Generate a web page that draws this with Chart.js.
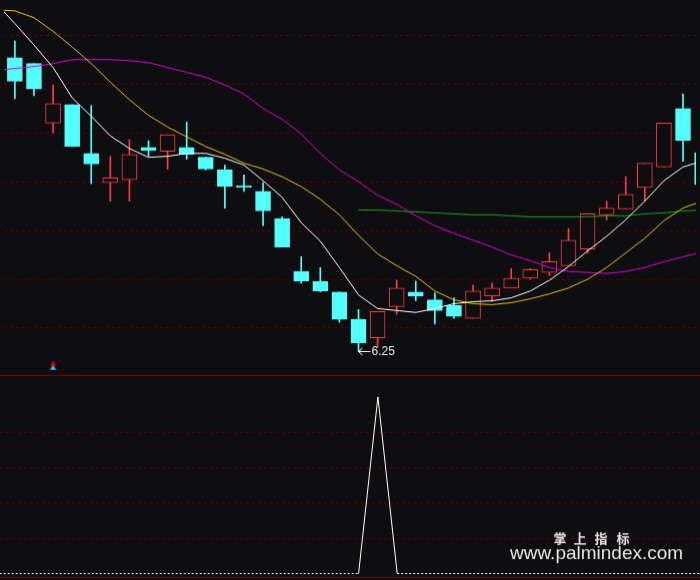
<!DOCTYPE html>
<html>
<head>
<meta charset="utf-8">
<script src="https://cdn.jsdelivr.net/npm/chart.js@4.4.0/dist/chart.umd.min.js"></script>
<style>
  body { margin: 0; background: #0e0e11; width: 700px; height: 580px; overflow: hidden; }
  canvas { display: block; }
  #top { border-bottom: 1px solid #7a0000; }
  #bottom { border-bottom: 1px solid #6a0000; }
</style>
</head>
<body>
<canvas id="top" width="700" height="376"></canvas>
<canvas id="bottom" width="700" height="202"></canvas>
<script>
// daily candles, index 0..36
var opens  = [9.26,9.20,8.59,8.78,8.28,7.98,8.01,8.34,8.30,8.34,8.24,8.11,7.95,7.89,7.61,7.07,6.97,6.86,6.58,6.39,6.71,6.86,6.78,6.72,6.59,6.82,6.90,7.00,7.06,7.13,7.30,7.65,7.71,7.93,8.14,8.74,8.29];
var closes = [9.02,8.94,8.79,8.35,8.17,8.03,8.27,8.31,8.47,8.27,8.12,7.94,7.93,7.69,7.32,6.97,6.87,6.58,6.34,6.66,6.90,6.82,6.67,6.61,6.87,6.90,7.00,7.09,7.17,7.39,7.66,7.72,7.86,8.18,8.59,8.41,7.96];
var highs  = [9.43,9.20,8.98,8.78,8.77,8.25,8.42,8.41,8.47,8.60,8.24,8.16,8.06,7.98,7.63,7.22,7.11,6.86,6.68,6.66,6.98,6.97,6.85,6.80,6.93,6.95,7.10,7.10,7.26,7.51,7.66,7.79,8.04,8.18,8.59,8.89,8.41];
var lows   = [8.84,8.87,8.49,8.35,7.97,7.79,7.79,8.25,8.12,8.22,8.11,7.72,7.89,7.54,7.32,6.95,6.86,6.55,6.25,6.29,6.63,6.77,6.53,6.59,6.59,6.76,6.90,6.99,7.03,7.13,7.26,7.60,7.71,7.79,8.14,8.20,7.91];

// moving averages, index -1..36
var ma5  = [9.82,9.61,9.39,9.16,8.85,8.66,8.46,8.33,8.24,8.25,8.28,8.28,8.23,8.16,8.00,7.83,7.57,7.38,7.11,6.83,6.69,6.67,6.65,6.69,6.74,6.76,6.77,6.80,6.87,6.98,7.12,7.28,7.43,7.60,7.79,8.00,8.14,8.20];
var ma10 = [9.75,9.74,9.67,9.53,9.37,9.20,9.01,8.83,8.67,8.55,8.45,8.35,8.27,8.18,8.12,8.04,7.94,7.81,7.65,7.44,7.25,7.13,7.02,6.87,6.78,6.74,6.73,6.75,6.79,6.84,6.90,6.99,7.11,7.26,7.41,7.59,7.72,7.79];
var ma20 = [9.13,9.15,9.17,9.20,9.24,9.24,9.24,9.23,9.21,9.16,9.11,9.06,8.98,8.89,8.74,8.63,8.48,8.28,8.11,7.99,7.85,7.76,7.64,7.54,7.46,7.39,7.32,7.24,7.18,7.11,7.07,7.06,7.05,7.07,7.11,7.17,7.22,7.27];
// ma60 only from index 18
var ma60 = [7.70,7.70,7.69,7.68,7.67,7.66,7.65,7.65,7.64,7.63,7.63,7.63,7.63,7.64,7.64,7.66,7.67,7.69,7.70];

// signal marks (index 2) and lower indicator, index -1..37
var markIndex = 2;
var markRed = 6.12, markBlue = 6.08;
var signal = [0,0,0,0,0,0,0,0,0,0,0,0,0,0,0,0,0,0,0,0,100,0,0,0,0,0,0,0,0,0,0,0,0,0,0,0,0,0,0];

var priceGrid = [6.49,6.99,7.49,7.99,8.49,8.99,9.49];
var signalGrid = [20,40,60,80];

var BG = '#0e0e11', RED = '#ff3c3c', CYAN = '#54ffff';
var xMin = -0.57, xMax = 35.68;

function fromIndex(arr, start) {
    return arr.map(function (v, k) { return {x: start + k, y: v}; });
}

var up = closes.map(function (c, i) { return c >= opens[i]; });

var wicks = highs.map(function (h, i) { return {x: i, y: [lows[i], h]}; });
var bodies = opens.map(function (o, i) { return {x: i, y: [o, closes[i]]}; });

var xScale = {type: 'linear', min: xMin, max: xMax, offset: false, display: false};

function gridScale(min, max, ticks) {
    return {
        min: min, max: max,
        afterBuildTicks: function (s) { s.ticks = ticks.map(function (v) { return {value: v}; }); },
        afterFit: function (s) { s.width = 0; },
        ticks: {display: false},
        border: {display: false, dash: [3, 3]},
        grid: {color: '#640000', lineWidth: 1, drawTicks: false}
    };
}

var lowLabel = {
    id: 'lowLabel',
    afterDatasetsDraw: function (chart) {
        var i = lows.indexOf(Math.min.apply(null, lows));
        var x = chart.scales.x.getPixelForValue(i);
        var y = Math.round(chart.scales.y.getPixelForValue(lows[i])) + 0.5;
        var ctx = chart.ctx;
        ctx.save();
        ctx.strokeStyle = '#ffffff';
        ctx.lineWidth = 1;
        ctx.beginPath();
        ctx.moveTo(x, y); ctx.lineTo(x + 12, y);
        ctx.moveTo(x + 4, y - 3.5); ctx.lineTo(x, y); ctx.lineTo(x + 4, y + 3.5);
        ctx.stroke();
        ctx.fillStyle = '#e2ecf4';
        ctx.font = '12px "Liberation Sans"';
        ctx.textBaseline = 'middle';
        ctx.fillText(lows[i].toFixed(2), x + 13, y);
        ctx.restore();
    }
};

new Chart(document.getElementById('top'), {
    data: {
        datasets: [
            {type: 'line', data: fromIndex(ma5, -1), borderColor: '#ffffff', order: 1},
            {type: 'line', data: fromIndex(ma10, -1), borderColor: '#e6c300', order: 1},
            {type: 'line', data: fromIndex(ma20, -1), borderColor: '#dc00dc', order: 1},
            {type: 'line', data: fromIndex(ma60, 18), borderColor: '#12a81a', order: 1},
            {type: 'scatter', data: [{x: markIndex, y: markRed}], pointStyle: 'triangle', pointRadius: 3.5,
             backgroundColor: '#e00000', borderWidth: 0, order: 0},
            {type: 'scatter', data: [{x: markIndex, y: markBlue}], pointStyle: 'triangle', pointRadius: 3.5,
             backgroundColor: '#3ab8ff', borderWidth: 0, order: 0},
            {type: 'bar', data: bodies, barThickness: 15, grouped: false, borderWidth: 1, borderSkipped: false,
             borderColor: up.map(function (u) { return u ? RED : CYAN; }),
             backgroundColor: up.map(function (u) { return u ? BG : CYAN; }), order: 2},
            {type: 'bar', data: wicks, barThickness: 1, grouped: false, borderWidth: 0,
             backgroundColor: up.map(function (u) { return u ? RED : CYAN; }), order: 3}
        ]
    },
    options: {
        responsive: false,
        animation: false,
        devicePixelRatio: 1,
        layout: {padding: 0},
        elements: {line: {borderWidth: 1, tension: 0}, point: {radius: 0}},
        plugins: {legend: {display: false}, tooltip: {enabled: false}},
        scales: {x: xScale, y: gridScale(6.05, 9.81, priceGrid)}
    },
    plugins: [lowLabel]
});

var watermark = {
    id: 'watermark',
    afterDraw: function (chart) {
        var ctx = chart.ctx;
        ctx.save();
        ctx.fillStyle = '#e6e6e6';
        ctx.textAlign = 'center';
        ctx.textBaseline = 'middle';
        ctx.font = 'bold 13px "Noto Sans CJK SC"';
        var chars = ['掌', '上', '指', '标'], cx = [560, 580, 601, 623];
        chars.forEach(function (c, k) { ctx.fillText(c, cx[k], 163); });
        ctx.textAlign = 'left';
        ctx.textBaseline = 'alphabetic';
        ctx.font = '19px "Liberation Sans"';
        ctx.fillText('www.palmindex.com', 510, 184);
        ctx.restore();
    }
};

new Chart(document.getElementById('bottom'), {
    type: 'line',
    data: {
        datasets: [{
            data: fromIndex(signal, -1),
            borderColor: '#ffffff',
            borderWidth: 1,
            pointRadius: 0,
            segment: {
                borderDash: function (c) { return (c.p0.parsed.y === 0 && c.p1.parsed.y === 0) ? [2, 2] : undefined; }
            }
        }]
    },
    options: {
        responsive: false,
        animation: false,
        devicePixelRatio: 1,
        layout: {padding: 0},
        plugins: {legend: {display: false}, tooltip: {enabled: false}},
        scales: {x: xScale, y: gridScale(-1.97, 111.83, signalGrid)}
    },
    plugins: [watermark]
});
</script>
</body>
</html>
